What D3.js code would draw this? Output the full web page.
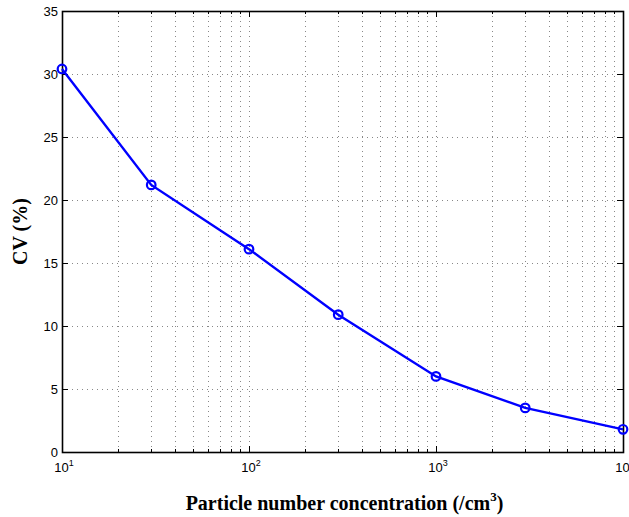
<!DOCTYPE html>
<html>
<head>
<meta charset="utf-8">
<script src="https://cdn.jsdelivr.net/npm/d3@7"></script>
<style>
  body { margin: 0; background: #fff; }
  svg { display: block; }
</style>
</head>
<body>
<svg width="629" height="517"></svg>
<script>
var concentration = [10, 30, 100, 300, 1000, 3000, 10000];
var cvValues      = [30.4, 21.2, 16.1, 10.9, 6.0, 3.5, 1.8];
var yTicks        = [0, 5, 10, 15, 20, 25, 30, 35];
var xTicks        = [10, 100, 1000, 10000];
var xTickExp      = ["1", "2", "3", "4"];

var svg = d3.select("svg");

const pLeft = 62, pRight = 623, pTop = 11, pBottom = 452;

var x = d3.scaleLog().domain([10, 10000]).range([pLeft, pRight]);
var y = d3.scaleLinear().domain([0, 35]).range([pBottom, pTop]);

// minor ticks for log axis
var minor = [];
[10, 100, 1000].forEach(function (d) {
  for (var k = 2; k <= 9; k++) minor.push(d * k);
});

var grid = svg.append("g")
    .attr("stroke", "#888")
    .attr("stroke-width", 1)
    .attr("stroke-dasharray", "1,4");

grid.selectAll(".gy").data(yTicks.slice(1, -1)).enter().append("line")
    .attr("x1", pLeft).attr("x2", pRight)
    .attr("y1", function (d) { return Math.round(y(d)) + 0.5; })
    .attr("y2", function (d) { return Math.round(y(d)) + 0.5; });

grid.selectAll(".gx").data(minor.concat(xTicks.slice(1, -1))).enter().append("line")
    .attr("y1", pTop).attr("y2", pBottom)
    .attr("x1", function (d) { return Math.round(x(d)) + 0.5; })
    .attr("x2", function (d) { return Math.round(x(d)) + 0.5; });

// tick marks (inward, on all sides)
var ticks = svg.append("g").attr("stroke", "#000").attr("stroke-width", 1);
yTicks.forEach(function (d) {
  var yy = Math.round(y(d)) + 0.5;
  ticks.append("line").attr("x1", pLeft).attr("x2", pLeft + 6).attr("y1", yy).attr("y2", yy);
  ticks.append("line").attr("x1", pRight).attr("x2", pRight - 6).attr("y1", yy).attr("y2", yy);
});
xTicks.forEach(function (d) {
  var xx = Math.round(x(d)) + 0.5;
  ticks.append("line").attr("x1", xx).attr("x2", xx).attr("y1", pBottom).attr("y2", pBottom - 6);
  ticks.append("line").attr("x1", xx).attr("x2", xx).attr("y1", pTop).attr("y2", pTop + 6);
});
minor.forEach(function (d) {
  var xx = Math.round(x(d)) + 0.5;
  ticks.append("line").attr("x1", xx).attr("x2", xx).attr("y1", pBottom).attr("y2", pBottom - 3);
  ticks.append("line").attr("x1", xx).attr("x2", xx).attr("y1", pTop).attr("y2", pTop + 3);
});

// box
svg.append("rect")
    .attr("x", pLeft + 0.5).attr("y", pTop + 0.5)
    .attr("width", pRight - pLeft).attr("height", pBottom - pTop)
    .attr("fill", "none").attr("stroke", "#000").attr("stroke-width", 1.6);

// y tick labels
svg.append("g").selectAll("text").data(yTicks).enter().append("text")
    .attr("x", pLeft - 4)
    .attr("y", function (d) { return y(d) + 5; })
    .attr("text-anchor", "end")
    .attr("font-family", "Liberation Sans, Arial, sans-serif")
    .attr("font-size", 13)
    .text(function (d) { return d; });

// x tick labels 10^n
var xl = svg.append("g").selectAll("text").data(xTicks).enter().append("text")
    .attr("x", function (d) { return x(d) + 2; })
    .attr("y", pBottom + 20)
    .attr("text-anchor", "middle")
    .attr("font-family", "Liberation Sans, Arial, sans-serif")
    .attr("font-size", 13);
xl.append("tspan").text("10");
xl.append("tspan").attr("dy", -6).attr("font-size", 9)
    .text(function (d, i) { return xTickExp[i]; });

// line and markers
var line = d3.line()
    .x(function (d, i) { return x(concentration[i]); })
    .y(function (d) { return y(d); });

svg.append("path").datum(cvValues)
    .attr("d", line)
    .attr("fill", "none")
    .attr("stroke", "#0000ff")
    .attr("stroke-width", 2.4);

svg.append("g").selectAll("circle").data(cvValues).enter().append("circle")
    .attr("cx", function (d, i) { return x(concentration[i]); })
    .attr("cy", function (d) { return y(d); })
    .attr("r", 4.3)
    .attr("fill", "none")
    .attr("stroke", "#0000ff")
    .attr("stroke-width", 2.2);

// axis titles
var xt = svg.append("text")
    .attr("x", (pLeft + pRight) / 2 + 2)
    .attr("y", 510)
    .attr("text-anchor", "middle")
    .attr("font-family", "Liberation Serif, Times New Roman, serif")
    .attr("font-weight", "bold")
    .attr("font-size", 20);
xt.append("tspan").text("Particle number concentration (/cm");
xt.append("tspan").attr("dy", -9).attr("font-size", 13).text("3");
xt.append("tspan").attr("dy", 9).text(")");

svg.append("text")
    .attr("transform", "translate(27," + ((pTop + pBottom) / 2) + ") rotate(-90)")
    .attr("text-anchor", "middle")
    .attr("font-family", "Liberation Serif, Times New Roman, serif")
    .attr("font-weight", "bold")
    .attr("font-size", 20)
    .text("CV (%)");
</script>
</body>
</html>
